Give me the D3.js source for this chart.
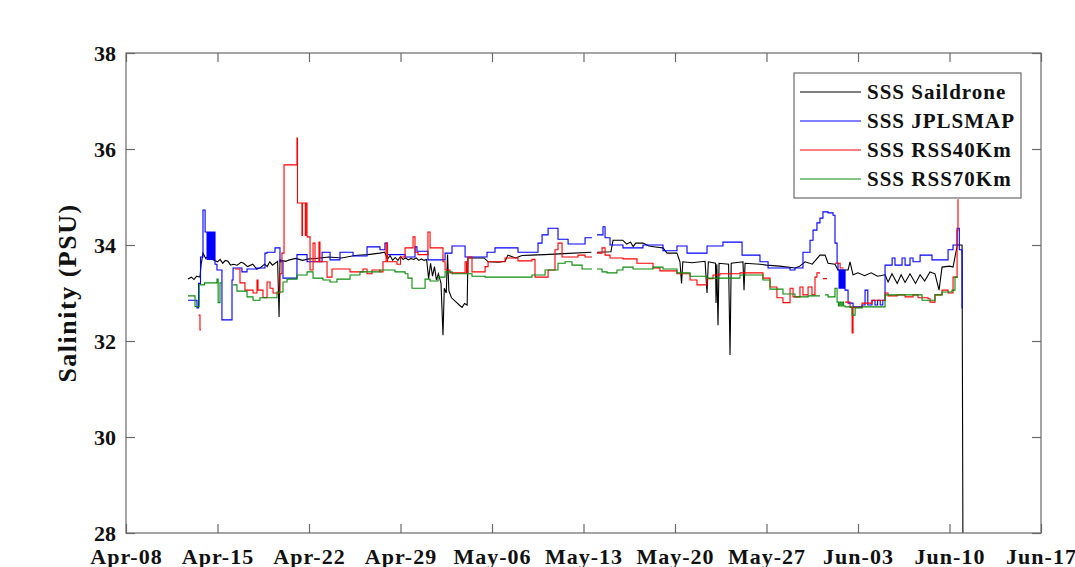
<!DOCTYPE html>
<html>
<head>
<meta charset="utf-8">
<script src="https://cdn.jsdelivr.net/npm/d3@7"></script>
<style>
  body { margin: 0; background: #fff; }
  text { font-family: "Liberation Serif", "DejaVu Serif", serif; font-weight: bold; fill: #111; }
</style>
</head>
<body>
<svg id="chart"></svg>
<script>
const width = 1075;
const height = 567;
const margin = { top: 53, right: 34, bottom: 34, left: 126 };

// days since Apr-08, salinity (null = no data)
const saildrone = [
  [4.74,33.29],[5.0,33.33],[5.2,33.28],[5.4,33.35],[5.66,33.33],[5.75,33.6],[5.89,33.83],[6.1,33.72],[6.3,33.78],[6.66,33.69],
  [7.0,33.65],[7.2,33.7],[7.4,33.62],[7.6,33.68],[7.8,33.66],[8.0,33.58],[8.2,33.6],[8.5,33.58],[8.8,33.64],[9.0,33.62],[9.3,33.55],[9.7,33.6],[10.0,33.5],[10.25,33.52],[10.6,33.6],
  [10.8,33.55],[11.0,33.65],[11.2,33.58],[11.4,33.62],[11.6,33.66],[11.71,32.5],[11.78,33.69],[12.2,33.66],[12.5,33.69],[13.0,33.72],[13.5,33.68],[14.0,33.71],[14.5,33.72],
  [15.5,33.75],[16.5,33.73],[17.5,33.78],[18.5,33.8],[19.4,33.83],[19.8,33.85],[20.0,33.7],[20.2,33.78],[20.4,33.68],
  [20.6,33.74],[20.8,33.68],[21.0,33.76],[21.2,33.7],[21.4,33.73],[21.6,33.69],[21.8,33.72],[22.0,33.7],[22.2,33.73],
  [22.4,33.68],[22.6,33.71],[22.8,33.68],[23.0,33.7],[23.15,33.3],[23.3,33.62],[23.45,33.35],[23.6,33.55],[23.75,33.27],
  [23.9,33.4],[24.1,33.2],[24.25,32.12],[24.35,33.1],[24.5,33.0],[24.6,33.8],[24.7,33.05],[24.9,32.9],[25.1,32.85],
  [25.3,32.8],[25.5,32.75],[25.71,32.7],[25.9,32.78],[26.1,32.75],[26.16,33.73],[27.4,33.73],[27.7,33.65],[28.5,33.64],
  [29.0,33.66],[29.22,33.79],[29.8,33.73],[30.3,33.78],[31.0,33.79],[32.0,33.8],[33.5,33.82],[35.6,33.85],[35.8,null],
  [36.03,33.85],[37.1,33.86],[37.26,34.1],[38.0,34.1],[38.3,34.02],[38.6,34.06],[38.8,33.97],[39.0,34.04],[39.55,34.04],
  [40.0,33.98],[40.5,33.96],[41.08,33.94],[41.39,33.83],[42.15,33.83],[42.38,33.65],[42.5,33.2],[42.6,33.65],[43.3,33.63],
  [44.3,33.66],[44.45,33.0],[44.55,33.65],[45.1,33.62],[45.14,32.79],[45.2,33.6],[45.29,32.33],[45.37,33.62],[46.1,33.6],
  [46.21,31.71],[46.3,33.62],[47.2,33.65],[47.28,33.06],[47.36,33.62],[48.5,33.6],[49.0,33.58],[50.0,33.56],[51.18,33.52],
  [51.5,33.55],[51.95,33.65],[52.5,33.6],[53.09,33.79],[53.48,33.79],[53.71,33.62],[54.24,33.6],[54.47,33.48],[55.24,33.48],
  [55.39,33.65],[55.62,33.38],[56.0,33.42],[56.5,33.36],[57.0,33.42],[57.5,33.35],[58.07,33.38],[58.3,33.23],[58.6,33.4],
  [59.0,33.2],[59.3,33.38],[59.6,33.22],[59.98,33.4],[60.4,33.2],[60.75,33.38],[61.1,33.25],[61.51,33.44],[61.89,33.4],
  [62.2,33.06],[62.43,33.54],[63.0,33.56],[63.27,33.54],[63.6,34.0],[63.96,34.0],[64.03,27.5]
];

const jplsmap = [
  [4.74,32.85],[5.43,32.69],[5.55,33.2],[5.7,33.75],[5.89,34.73],[6.05,34.27],[6.2,33.7],[6.28,34.27],[6.36,33.7],
  [6.44,34.27],[6.52,33.7],[6.6,34.27],[6.68,33.7],[6.76,34.27],[6.81,33.6],[6.96,33.48],[7.34,32.44],[8.11,33.27],
  [8.19,33.52],[8.87,33.44],[9.26,33.5],[10.0,33.52],[10.63,33.83],[10.79,33.85],[11.4,33.94],[11.78,33.65],[12.01,33.31],
  [13.08,33.8],[13.85,33.65],[15.0,33.85],[15.61,33.69],[16.37,33.85],[17.37,33.77],[18.44,33.96],[19.43,33.9],[19.81,34.04],
  [20.0,33.8],[21.35,33.75],[22.11,33.96],[22.26,33.87],[23.1,33.69],[24.41,33.83],[24.94,33.98],[25.94,33.75],[27.62,33.85],
  [28.23,33.94],[29.99,33.85],[31.52,34.04],[31.83,34.21],[32.29,34.35],[33.05,34.12],[33.82,34.02],[35.12,34.15],[35.65,null],
  [36.03,34.21],[36.49,34.38],[36.65,34.15],[37.03,34.0],[38.02,33.94],[39.55,34.0],[41.08,33.88],[42.15,33.98],[42.92,33.83],
  [44.45,33.98],[45.67,34.06],[47.13,33.79],[48.5,33.65],[49.12,33.52],[50.8,33.48],[51.18,33.52],[51.79,33.85],[52.33,34.1],
  [52.56,34.31],[52.86,34.46],[53.09,34.56],[53.32,34.69],[53.71,34.67],[54.09,34.62],[54.24,34.04],[54.4,33.62],[54.47,33.48],
  [54.55,33.1],[54.63,33.48],[54.7,33.1],[54.78,33.48],[54.86,33.1],[54.94,33.48],[55.01,33.06],[55.24,32.79],[55.62,32.71],
  [56.31,32.75],[56.54,33.06],[56.75,32.75],[57.07,32.85],[57.3,32.75],[57.5,32.85],[57.7,32.75],[57.9,32.85],[58.07,33.58],
  [58.61,33.73],[58.83,33.58],[59.37,33.73],[59.6,33.58],[59.98,33.73],[60.21,33.65],[60.75,33.79],[61.66,33.69],[62.89,33.9],
  [63.27,34.0],[63.58,34.35],[63.75,33.9],[63.96,32.69],[64.0,32.69]
];

const rss40 = [
  [5.55,32.54],[5.66,32.23],[5.74,null],
  [8.35,33.5],[8.72,33.21],[9.1,33.06],[9.72,33.0],[10.02,33.27],[10.1,33.06],[10.48,32.9],[10.79,33.23],[11.02,33.1],
  [11.25,33.0],[11.78,33.4],[11.93,33.83],[12.09,35.67],[13.08,36.23],[13.12,34.875],[13.46,34.2],[13.5,34.875],[13.72,34.2],
  [13.76,34.875],[13.85,34.17],[14.08,33.48],[14.31,34.04],[14.46,33.65],[14.76,34.06],[14.84,33.65],
  [15.38,33.33],[15.76,33.5],[17.14,33.44],[18.13,33.5],[18.44,33.4],[18.82,33.48],[19.43,33.44],[19.66,33.65],[19.9,34.04],
  [20.0,33.65],[20.73,33.6],[21.0,33.75],[21.35,33.94],[21.96,34.17],[22.11,33.85],[22.34,33.8],[23.1,34.27],[23.26,33.94],
  [24.25,33.65],[24.41,33.48],[24.79,33.42],[25.94,33.65],[26.05,33.42],[26.16,33.75],[26.47,33.44],[27.47,33.55],[27.7,33.65],
  [29.0,33.73],[29.99,33.67],[31.06,33.7],[31.29,33.33],[32.29,33.48],[32.82,33.9],[33.05,34.04],[33.36,33.75],[34.58,33.79],
  [35.12,33.75],[35.65,null],
  [36.03,33.83],[36.42,33.94],[36.65,33.79],[37.03,33.73],[38.02,33.71],[39.09,33.62],[40.32,33.52],[40.85,33.46],[42.15,33.4],
  [43.15,33.27],[43.68,33.17],[44.45,33.3],[44.91,33.375],[45.44,33.4],[46.97,33.42],[48.73,33.31],[49.27,33.125],[49.8,32.9],
  [50.26,32.8],[50.8,33.1],[51.03,32.92],[51.56,33.125],[51.79,32.96],[52.18,33.125],[52.48,32.96],[52.71,33.33],[52.86,33.42],
  [53.09,null],
  [53.32,33.3],[53.63,null],
  [54.24,33.62],[54.63,33.52],[54.9,null],
  [55.01,32.81],[55.39,32.7],[55.55,32.17],[55.62,32.7],[56.31,32.79],[57.07,32.85],[58.07,33.0],[58.3,32.94],[59.0,32.96],
  [59.6,32.92],[60.21,32.96],[60.59,32.9],[61.36,32.88],[61.51,32.81],[61.89,32.96],[62.43,33.06],[62.89,33.0],[63.27,33.33],
  [63.58,34.3],[63.65,34.94],[63.7,null]
];

const rss70 = [
  [4.74,32.94],[5.28,32.72],[5.6,33.17],[6.0,33.21],[6.96,33.29],[7.05,32.8],[7.19,33.21],[7.34,null],
  [8.19,33.17],[8.49,33.04],[9.26,32.92],[9.72,32.85],[10.25,32.9],[11.55,33.02],[12.01,33.23],[12.32,33.29],[13.08,33.375],
  [13.85,33.44],[14.31,33.31],[15.07,33.27],[15.61,33.23],[16.14,33.29],[17.14,33.375],[17.9,33.44],[19.43,33.48],[20.58,33.44],
  [21.35,33.4],[21.57,33.31],[21.88,33.1],[22.88,33.29],[23.26,33.25],[23.87,33.33],[24.41,33.44],[24.94,33.4],[26.47,33.35],
  [27.47,33.33],[31.06,33.375],[32.06,33.48],[33.05,33.62],[33.59,33.65],[34.12,33.58],[34.89,33.5],[35.65,null],
  [36.03,33.5],[36.42,33.44],[36.8,33.42],[37.56,33.48],[38.02,33.54],[38.79,33.5],[40.32,33.54],[41.08,33.5],[42.15,33.42],
  [43.15,33.35],[44.45,33.31],[46.97,33.375],[48.73,33.27],[49.27,33.08],[50.26,32.98],[51.18,32.92],[52.18,32.94],[53.09,null],
  [53.48,32.96],[53.71,32.92],[54.24,33.1],[54.4,32.81],[54.5,32.73],[54.6,32.81],[54.7,32.73],[54.8,32.81],[54.9,32.73],
  [55.01,32.71],[55.55,32.54],[55.78,32.69],[56.31,32.71],[58.07,32.96],[60.9,32.85],[61.89,32.96],[62.43,33.02],[63.19,33.06],
  [63.42,33.33],[63.65,null]
];

const seriesNames = ["SSS Saildrone", "SSS JPLSMAP", "SSS RSS40Km", "SSS RSS70Km"];
const seriesColors = ["#000000", "#0000ff", "#ff0000", "#0a8a0a"];
const yTicks = [28, 30, 32, 34, 36, 38];

const base = Date.UTC(2018, 3, 8);
const toDate = d => new Date(base + d * 864e5);

const svg = d3.select('#chart')
  .attr('width', width)
  .attr('height', height);

const x = d3.scaleUtc()
  .domain([toDate(0), toDate(70)])
  .range([margin.left, width - margin.right]);
const y = d3.scaleLinear()
  .domain([28, 38])
  .range([height - margin.bottom, margin.top]);

svg.append("clipPath").attr("id", "plot-clip")
  .append("rect")
  .attr("x", margin.left).attr("y", margin.top)
  .attr("width", width - margin.left - margin.right)
  .attr("height", height - margin.top - margin.bottom);

// step data: keep the last level running up to a gap
function expand(arr) {
  let out = [];
  arr.forEach((p, i) => {
    if (p[1] === null && i > 0 && arr[i - 1][1] !== null) out.push([p[0], arr[i - 1][1]]);
    out.push(p);
  });
  return out;
}

let lineStep = d3.line()
  .defined(d => d[1] !== null)
  .x(d => x(toDate(d[0]))).y(d => y(d[1]))
  .curve(d3.curveStepAfter);
let lineLinear = d3.line()
  .defined(d => d[1] !== null)
  .x(d => x(toDate(d[0]))).y(d => y(d[1]));

const plot = svg.append("g").attr("clip-path", "url(#plot-clip)");
[saildrone, jplsmap, rss40, rss70].forEach((s, i) => {
  plot.append("path")
    .attr("d", i == 0 ? lineLinear(s) : lineStep(expand(s)))
    .attr("fill", "none")
    .attr("stroke", seriesColors[i])
    .attr("stroke-width", 1.1)
    .attr("stroke-linejoin", "miter");
});

// axes, ticks pointing inward
const xTicks = d3.range(0, 71, 7).map(toDate);
const fmt = d3.utcFormat("%b-%d");

const gx = svg.append("g")
  .attr("transform", `translate(0,${height - margin.bottom})`)
  .call(d3.axisBottom(x).tickValues(xTicks).tickFormat(fmt).tickSize(-9).tickPadding(15));
const gxTop = svg.append("g")
  .attr("transform", `translate(0,${margin.top})`)
  .call(d3.axisTop(x).tickValues(xTicks).tickFormat("").tickSize(-9));
const gy = svg.append("g")
  .attr("transform", `translate(${margin.left},0)`)
  .call(d3.axisLeft(y).tickValues(yTicks).tickSize(-9).tickPadding(10));
const gyRight = svg.append("g")
  .attr("transform", `translate(${width - margin.right},0)`)
  .call(d3.axisRight(y).tickValues(yTicks).tickFormat("").tickSize(-9));

[gx, gxTop, gy, gyRight].forEach(g => {
  g.select(".domain").remove();
  g.selectAll("line").attr("stroke", "#6a6a6a").attr("stroke-width", 1.2);
  g.selectAll("text")
    .attr("font-family", "Liberation Serif, serif")
    .attr("font-weight", "bold")
    .attr("font-size", 22)
    .attr("fill", "#111");
});
gx.selectAll("text").attr("letter-spacing", 1);

svg.append("rect")
  .attr("x", margin.left).attr("y", margin.top)
  .attr("width", width - margin.left - margin.right)
  .attr("height", height - margin.top - margin.bottom)
  .attr("fill", "none")
  .attr("stroke", "#6a6a6a")
  .attr("stroke-width", 1.2);

svg.append("text")
  .attr("transform", `translate(76,${(margin.top + height - margin.bottom) / 2}) rotate(-90)`)
  .attr("text-anchor", "middle")
  .attr("font-size", 26)
  .attr("letter-spacing", 1.5)
  .text("Salinity (PSU)");

// legend
const legend = svg.append("g").attr("transform", "translate(794,73)");
legend.append("rect")
  .attr("width", 227).attr("height", 125)
  .attr("fill", "#fff")
  .attr("stroke", "#6a6a6a")
  .attr("stroke-width", 1.2);
seriesNames.forEach((name, i) => {
  let ly = 19 + i * 29;
  legend.append("line")
    .attr("x1", 6).attr("x2", 67)
    .attr("y1", ly).attr("y2", ly)
    .attr("stroke", seriesColors[i])
    .attr("stroke-width", 1.1);
  legend.append("text")
    .attr("x", 73).attr("y", ly)
    .attr("dy", "0.35em")
    .attr("font-size", 21)
    .attr("letter-spacing", 1)
    .text(name);
});
</script>
</body>
</html>
